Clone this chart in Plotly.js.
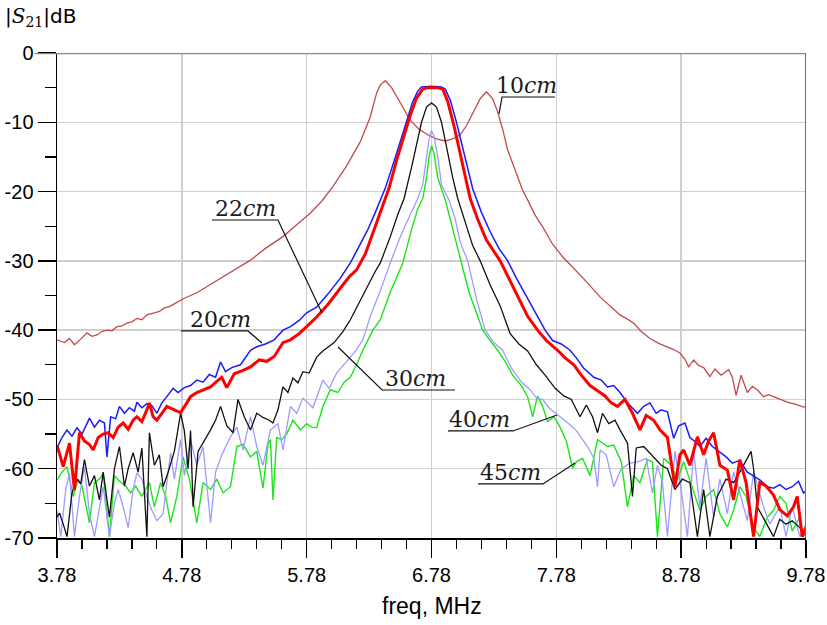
<!DOCTYPE html>
<html>
<head>
<meta charset="utf-8">
<script src="https://cdn.plot.ly/plotly-3.0.1.min.js"></script>
<style>html,body{margin:0;padding:0;background:#fff;}#chart{width:827px;height:625px;}</style>
</head>
<body>
<div id="chart"></div>
<script>
// ---- data (freq in MHz, |S21| in dB) ----
const f10 = [3.78,3.84,3.88,3.92,3.97,4.02,4.06,4.10,4.14,4.18,4.22,4.26,4.30,4.34,4.38,4.42,4.46,4.50,4.56,4.60,4.64,4.68,4.72,4.80,4.90,5.00,5.06,5.15,5.25,5.33,5.45,5.59,5.70,5.81,5.90,5.99,6.10,6.21,6.29,6.34,6.37,6.41,6.46,6.53,6.61,6.68,6.75,6.82,6.89,6.95,7.01,7.06,7.11,7.17,7.22,7.27,7.31,7.35,7.39,7.45,7.51,7.55,7.61,7.67,7.75,7.83,7.89,8.00,8.13,8.20,8.29,8.34,8.40,8.46,8.53,8.60,8.67,8.72,8.77,8.81,8.84,8.88,8.92,8.96,9.01,9.05,9.10,9.16,9.19,9.22,9.26,9.31,9.35,9.39,9.44,9.48,9.52,9.57,9.63,9.70,9.76,9.78];
const s10 = [-41.4,-41.8,-41.2,-42.1,-41.3,-40.4,-40.9,-40.7,-40.2,-40.0,-40.1,-39.5,-39.4,-39.0,-38.8,-38.3,-38.5,-37.8,-37.5,-37.3,-36.8,-36.6,-36.2,-35.4,-34.6,-33.5,-32.8,-31.8,-30.7,-29.9,-28.2,-26.5,-24.8,-23.1,-21.4,-19.3,-16.3,-12.8,-9.2,-5.8,-4.6,-4.0,-5.0,-7.2,-9.7,-11.0,-11.8,-12.4,-12.7,-12.4,-11.8,-10.5,-8.7,-6.6,-5.6,-6.6,-8.5,-11.0,-14.0,-17.0,-19.8,-21.2,-23.4,-25.1,-27.6,-29.4,-30.5,-32.6,-35.2,-36.4,-37.8,-38.3,-39.0,-40.2,-41.2,-41.9,-42.4,-42.8,-43.3,-44.2,-45.3,-44.3,-45.1,-45.4,-46.7,-45.6,-46.5,-45.7,-46.8,-49.4,-46.5,-49.0,-48.1,-48.6,-49.6,-49.3,-49.6,-50.0,-50.4,-50.7,-51.1,-51.0];

const f20 = [3.78,3.82,3.86,3.90,3.94,3.98,4.02,4.04,4.08,4.12,4.16,4.18,4.21,4.25,4.28,4.32,4.36,4.40,4.42,4.46,4.50,4.54,4.58,4.62,4.66,4.71,4.75,4.80,4.85,4.90,4.95,5.00,5.05,5.09,5.13,5.18,5.25,5.30,5.33,5.38,5.45,5.52,5.59,5.65,5.72,5.78,5.86,5.95,6.05,6.13,6.20,6.27,6.33,6.41,6.50,6.58,6.63,6.67,6.70,6.78,6.86,6.89,6.93,6.98,7.04,7.11,7.18,7.25,7.32,7.39,7.46,7.53,7.61,7.69,7.75,7.82,7.89,7.94,8.00,8.08,8.14,8.19,8.24,8.29,8.35,8.40,8.43,8.48,8.53,8.58,8.62,8.67,8.72,8.76,8.81,8.85,8.90,8.93,8.98,9.03,9.09,9.14,9.19,9.25,9.31,9.36,9.41,9.47,9.52,9.57,9.62,9.67,9.72,9.76,9.78];
const s20 = [-57.0,-55.5,-54.4,-55.3,-54.1,-55.0,-53.5,-52.7,-54.0,-53.0,-53.4,-58.3,-52.5,-52.8,-51.0,-52.0,-51.2,-51.7,-50.4,-51.2,-50.6,-50.9,-52.0,-50.5,-49.6,-48.4,-49.0,-48.3,-48.0,-47.2,-47.5,-46.4,-46.8,-44.6,-46.0,-45.4,-45.0,-43.6,-42.9,-42.4,-42.0,-41.4,-40.0,-39.5,-38.6,-37.5,-36.7,-34.8,-32.5,-30.3,-28.0,-25.5,-23.0,-19.5,-14.5,-10.0,-7.0,-5.5,-4.9,-4.8,-4.9,-5.2,-6.8,-10.0,-14.5,-19.6,-23.0,-25.8,-28.2,-30.0,-32.5,-34.8,-37.5,-40.0,-41.5,-42.0,-42.9,-44.0,-45.5,-46.8,-47.2,-48.2,-48.0,-49.0,-50.5,-51.5,-52.0,-51.0,-50.5,-52.0,-51.5,-51.8,-55.6,-53.8,-53.4,-55.5,-56.2,-56.8,-55.6,-56.8,-57.6,-58.3,-59.2,-58.8,-60.5,-61.0,-61.6,-62.6,-62.8,-62.3,-63.0,-62.6,-61.8,-63.5,-63.2];

const f22 = [3.78,3.83,3.88,3.92,3.96,4.00,4.04,4.07,4.11,4.15,4.19,4.23,4.27,4.31,4.35,4.39,4.42,4.46,4.50,4.52,4.55,4.58,4.62,4.66,4.72,4.77,4.82,4.85,4.90,4.96,5.01,5.06,5.10,5.14,5.20,5.27,5.33,5.40,5.46,5.52,5.59,5.65,5.72,5.78,5.86,5.95,6.05,6.12,6.18,6.25,6.32,6.38,6.44,6.50,6.56,6.61,6.66,6.71,6.75,6.82,6.87,6.91,6.96,7.02,7.09,7.15,7.22,7.33,7.40,7.48,7.55,7.63,7.70,7.79,7.85,7.92,7.98,8.05,8.11,8.17,8.22,8.27,8.33,8.39,8.45,8.50,8.56,8.61,8.67,8.73,8.77,8.80,8.85,8.91,8.96,9.00,9.04,9.09,9.15,9.20,9.25,9.30,9.36,9.41,9.46,9.52,9.57,9.63,9.68,9.71,9.75,9.78];
const s22 = [-56.6,-59.7,-56.3,-63.1,-54.8,-56.0,-56.5,-57.3,-55.5,-55.0,-54.8,-55.5,-54.0,-53.4,-54.3,-53.0,-52.5,-53.2,-51.5,-50.5,-52.5,-53.0,-52.0,-51.0,-51.5,-51.9,-50.5,-49.6,-49.0,-48.5,-48.2,-47.4,-46.8,-48.3,-46.3,-45.8,-45.3,-44.3,-44.5,-43.8,-41.8,-41.4,-40.5,-39.5,-38.1,-36.3,-34.0,-32.3,-31.3,-29.0,-25.5,-22.5,-19.5,-15.5,-12.0,-9.0,-6.5,-5.2,-5.0,-5.0,-5.2,-7.0,-10.5,-15.5,-21.0,-24.0,-27.0,-30.0,-32.5,-35.5,-38.0,-40.0,-41.5,-42.9,-44.0,-45.0,-46.5,-48.0,-48.8,-49.5,-50.5,-51.0,-50.0,-52.0,-54.4,-52.3,-53.0,-54.4,-55.5,-62.6,-58.0,-57.3,-59.5,-55.4,-58.0,-56.0,-54.8,-59.5,-60.2,-64.5,-58.7,-62.0,-69.8,-62.0,-62.5,-63.8,-65.9,-66.8,-65.5,-64.0,-69.8,-68.5];

const f30 = [3.78,3.80,3.83,3.86,3.90,3.94,3.97,4.00,4.04,4.08,4.12,4.15,4.20,4.24,4.28,4.32,4.35,4.39,4.43,4.46,4.50,4.52,4.56,4.60,4.63,4.67,4.72,4.77,4.80,4.83,4.85,4.87,4.91,4.95,5.01,5.05,5.09,5.14,5.19,5.23,5.28,5.33,5.38,5.43,5.48,5.51,5.55,5.59,5.63,5.67,5.71,5.75,5.80,5.86,5.91,6.00,6.07,6.13,6.20,6.27,6.33,6.37,6.45,6.51,6.56,6.62,6.67,6.70,6.74,6.78,6.82,6.86,6.90,6.95,6.99,7.05,7.11,7.17,7.25,7.33,7.41,7.48,7.55,7.62,7.69,7.77,7.84,7.90,7.97,8.02,8.07,8.11,8.15,8.20,8.25,8.29,8.35,8.39,8.42,8.48,8.56,8.62,8.67,8.73,8.79,8.85,8.91,8.96,9.01,9.07,9.14,9.20,9.25,9.31,9.34,9.36,9.39,9.45,9.52,9.57,9.62,9.67,9.73,9.78];
const s30 = [-67.0,-66.4,-68.0,-69.8,-63.5,-61.5,-62.2,-58.7,-62.5,-61.0,-64.5,-60.5,-67.0,-60.0,-56.8,-62.5,-60.0,-57.7,-60.5,-57.0,-69.8,-54.8,-59.5,-58.0,-62.6,-60.5,-57.5,-52.0,-54.5,-60.0,-54.5,-65.5,-57.5,-56.3,-54.4,-53.0,-51.0,-53.8,-54.8,-50.0,-52.5,-54.4,-52.0,-52.6,-53.0,-53.4,-51.5,-48.2,-49.0,-46.9,-47.6,-46.0,-46.2,-43.9,-43.0,-41.8,-40.2,-38.5,-36.0,-33.5,-31.5,-30.3,-26.5,-23.3,-21.0,-16.5,-12.5,-10.0,-7.8,-7.2,-7.8,-10.0,-13.5,-18.0,-21.0,-24.5,-27.8,-30.0,-33.5,-36.5,-40.5,-42.0,-43.0,-45.0,-46.5,-48.4,-49.5,-50.0,-52.5,-50.8,-52.5,-54.8,-52.0,-53.5,-53.0,-54.4,-56.3,-64.0,-57.0,-56.8,-58.3,-59.5,-60.0,-63.0,-61.5,-62.0,-69.8,-63.0,-69.8,-64.0,-61.5,-62.0,-60.5,-58.4,-57.5,-60.0,-65.5,-67.5,-69.8,-67.3,-68.0,-67.5,-68.5,-69.5];

const f40 = [3.78,3.81,3.85,3.88,3.92,3.96,4.00,4.04,4.08,4.12,4.15,4.20,4.24,4.27,4.31,4.35,4.39,4.42,4.46,4.50,4.54,4.58,4.63,4.66,4.69,4.72,4.77,4.80,4.85,4.90,4.95,5.01,5.05,5.10,5.17,5.22,5.27,5.33,5.38,5.43,5.49,5.55,5.59,5.65,5.70,5.75,5.83,5.91,5.96,6.02,6.08,6.13,6.18,6.23,6.29,6.36,6.45,6.52,6.58,6.63,6.67,6.71,6.74,6.76,6.78,6.80,6.83,6.86,6.92,6.97,7.01,7.07,7.14,7.21,7.28,7.35,7.42,7.50,7.57,7.62,7.67,7.72,7.81,7.88,7.94,8.03,8.08,8.11,8.13,8.18,8.24,8.30,8.37,8.43,8.50,8.55,8.59,8.63,8.67,8.73,8.78,8.83,8.88,8.93,8.98,9.04,9.09,9.15,9.20,9.25,9.31,9.36,9.44,9.49,9.57,9.62,9.67,9.73,9.78];
const s40 = [-66.0,-69.8,-63.0,-60.6,-69.8,-64.0,-59.7,-66.5,-69.8,-66.0,-62.6,-69.8,-65.0,-63.0,-65.5,-68.5,-63.0,-60.6,-61.5,-64.0,-66.0,-67.5,-66.5,-62.0,-57.7,-61.5,-55.8,-61.0,-55.8,-59.5,-56.8,-67.8,-60.5,-58.0,-55.4,-54.0,-57.3,-52.5,-56.8,-59.5,-54.4,-53.5,-57.3,-51.0,-52.0,-49.8,-51.2,-47.2,-48.4,-46.2,-45.0,-43.9,-42.8,-41.4,-38.0,-34.8,-30.3,-27.0,-24.5,-22.5,-21.0,-19.0,-15.5,-12.5,-11.2,-12.0,-15.0,-19.0,-21.2,-24.0,-27.3,-30.0,-35.5,-40.0,-41.8,-42.9,-45.5,-47.5,-48.6,-49.8,-50.0,-51.2,-52.5,-53.5,-54.5,-56.8,-58.5,-62.6,-57.3,-58.0,-62.6,-60.0,-59.2,-59.0,-58.5,-63.5,-59.5,-62.0,-69.8,-57.5,-63.0,-69.8,-57.5,-65.5,-58.5,-67.0,-61.5,-66.5,-60.5,-63.5,-67.5,-60.5,-65.5,-68.0,-65.5,-69.8,-65.5,-69.8,-68.0];

const f45 = [3.78,3.82,3.86,3.91,3.95,3.98,4.04,4.08,4.12,4.15,4.20,4.24,4.28,4.33,4.37,4.41,4.46,4.52,4.56,4.61,4.65,4.69,4.74,4.79,4.84,4.90,4.95,5.01,5.06,5.11,5.17,5.22,5.27,5.33,5.38,5.43,5.47,5.49,5.51,5.54,5.58,5.62,5.67,5.73,5.78,5.82,5.86,5.91,5.97,6.03,6.08,6.13,6.18,6.23,6.31,6.37,6.45,6.55,6.62,6.67,6.71,6.74,6.76,6.78,6.80,6.83,6.89,6.95,7.01,7.08,7.14,7.19,7.25,7.31,7.37,7.43,7.50,7.55,7.59,7.63,7.67,7.71,7.76,7.81,7.86,7.91,7.94,7.99,8.05,8.11,8.19,8.24,8.30,8.35,8.40,8.45,8.51,8.55,8.59,8.64,8.70,8.75,8.80,8.88,8.93,8.98,9.04,9.09,9.15,9.20,9.25,9.30,9.36,9.41,9.47,9.52,9.57,9.62,9.67,9.73,9.76,9.78];
const s45 = [-61.6,-60.5,-59.7,-64.0,-61.5,-62.5,-67.8,-62.0,-61.5,-60.6,-69.8,-61.0,-61.8,-62.5,-63.5,-62.5,-64.0,-62.0,-65.5,-62.0,-64.0,-67.8,-64.0,-58.3,-61.5,-67.8,-62.0,-63.0,-61.5,-63.5,-62.6,-56.8,-56.5,-58.3,-57.5,-62.8,-56.5,-55.8,-64.5,-55.5,-55.8,-55.0,-53.0,-54.4,-53.5,-54.0,-54.1,-51.0,-48.6,-49.0,-47.5,-46.8,-45.0,-42.9,-40.0,-38.5,-34.5,-30.3,-25.5,-22.5,-21.0,-18.0,-15.0,-13.4,-14.5,-18.0,-21.2,-25.5,-29.9,-34.5,-37.5,-40.0,-41.5,-42.9,-44.5,-46.5,-48.0,-49.6,-52.5,-49.5,-51.0,-53.2,-52.5,-54.0,-56.0,-59.9,-59.0,-58.5,-61.0,-55.8,-56.8,-56.6,-59.0,-65.5,-61.0,-62.0,-58.7,-59.0,-69.8,-58.5,-59.5,-61.6,-59.0,-63.5,-66.0,-64.0,-63.0,-66.5,-68.4,-66.0,-62.6,-64.0,-68.5,-69.8,-67.0,-66.0,-64.0,-65.0,-69.0,-67.0,-69.8,-69.0];

const seriesNames = ['10cm','45cm','40cm','30cm','20cm','22cm'];
const xTickVals = [3.78,4.78,5.78,6.78,7.78,8.78,9.78];
const xTickText = ['3.78','4.78','5.78','6.78','7.78','8.78','9.78'];
const yTickVals = [0,-10,-20,-30,-40,-50,-60,-70];
const yTickText = ['0','-10','-20','-30','-40','-50','-60','-70'];

// ---- traces ----
const mk = (x, y, name, color, width) => ({
  type:'scatter', mode:'lines', x:x, y:y, name:name,
  line:{color:color, width:width, shape:'linear'}, hoverinfo:'skip'
});
const traces = [
  mk(f10, s10, seriesNames[0], '#c24a48', 1.3),
  mk(f45, s45, seriesNames[1], '#19e619', 1.4),
  mk(f40, s40, seriesNames[2], '#9c9cff', 1.3),
  mk(f30, s30, seriesNames[3], '#111111', 1.3),
  mk(f20, s20, seriesNames[4], '#1a1aff', 1.5),
  mk(f22, s22, seriesNames[5], '#ff0000', 3.0)
];

// ---- label callouts: text centre x, underline (x0,x1,y), leader end ----
const callouts = [
  {t:'10', cx:7.538, u0:7.345, u1:7.769, uy:-6.35, ex:7.321, ey:-8.80, from:'left'},
  {t:'22', cx:5.286, u0:5.022, u1:5.550, uy:-24.10, ex:5.903, ey:-37.52, from:'right'},
  {t:'20', cx:5.086, u0:4.773, u1:5.310, uy:-40.12, ex:5.422, ey:-41.85, from:'right'},
  {t:'30', cx:6.648, u0:6.384, u1:6.968, uy:-48.64, ex:6.031, ey:-42.43, from:'left'},
  {t:'40', cx:7.161, u0:6.912, u1:7.433, uy:-54.55, ex:7.785, ey:-52.24, from:'right'},
  {t:'45', cx:7.409, u0:7.153, u1:7.673, uy:-62.20, ex:7.930, ey:-59.17, from:'right'}
];

const shapes = [
  {type:'line', xref:'paper', yref:'y', x0:-0.03, x1:1, y0:0, y1:0, line:{color:'#8a8a8a', width:2.5}, layer:'above'},
  {type:'line', xref:'x', yref:'paper', x0:9.78, x1:9.78, y0:0, y1:1, line:{color:'#6e6e6e', width:2}, layer:'above'}
];
const annotations = [];
callouts.forEach(c => {
  const sx = c.from === 'left' ? c.u0 : c.u1;
  const ox = c.from === 'left' ? c.u1 : c.u0;
  shapes.push({type:'path', xref:'x', yref:'y',
    path:`M ${ox},${c.uy} L ${sx},${c.uy} L ${c.ex},${c.ey}`,
    line:{color:'#111', width:1.2}, layer:'above'});
  annotations.push({xref:'x', yref:'y', x:c.cx, y:c.uy, xanchor:'center', yanchor:'bottom',
    yshift:-3, showarrow:false,
    text:c.t + '<i>cm</i>',
    font:{family:'"DejaVu Serif", "Liberation Serif", serif', size:22, color:'#1a1a1a'}});
});
annotations.push({xref:'paper', yref:'paper', x:-0.072, y:1.074, xanchor:'left', yanchor:'middle',
  showarrow:false,
  text:'|<span style="font-family:\'DejaVu Serif\'"><i>S</i><sub>21</sub></span>|dB',
  font:{family:'"DejaVu Sans", sans-serif', size:20, color:'#000'}});
annotations.push({xref:'paper', yref:'paper', x:0.5, y:-0.14, xanchor:'center', yanchor:'middle',
  showarrow:false, text:'freq, MHz',
  font:{family:'"Liberation Sans", Arial, sans-serif', size:23, color:'#000'}});

const layout = {
  width:827, height:625,
  margin:{l:57, r:21, t:53, b:87, pad:0},
  paper_bgcolor:'#ffffff', plot_bgcolor:'#ffffff',
  showlegend:false,
  font:{family:'"Liberation Sans", Arial, sans-serif', size:20, color:'#000'},
  xaxis:{
    range:[3.78, 9.78], tickmode:'array', tickvals:xTickVals, ticktext:xTickText,
    ticks:'outside', ticklen:18, tickwidth:1.5, tickcolor:'#000',
    showline:true, linecolor:'#000', linewidth:1.5,
    showgrid:true, gridcolor:'#cfcfcf', gridwidth:1.5, zeroline:false,
    minor:{tickmode:'linear', tick0:3.78, dtick:0.2, ticks:'outside', ticklen:9, tickwidth:1.2, tickcolor:'#000', showgrid:false},
    tickfont:{size:20}, fixedrange:true
  },
  yaxis:{
    range:[-70, 0], tickmode:'array', tickvals:yTickVals, ticktext:yTickText,
    ticks:'outside', ticklen:18, tickwidth:1.5, tickcolor:'#000',
    showline:true, linecolor:'#000', linewidth:1.5,
    showgrid:true, gridcolor:'#cfcfcf', gridwidth:1.5, zeroline:false,
    minor:{tickmode:'linear', tick0:-70, dtick:5, ticks:'outside', ticklen:11, tickwidth:1.2, tickcolor:'#000', showgrid:false},
    tickfont:{size:20}, fixedrange:true
  },
  shapes:shapes,
  annotations:annotations
};

Plotly.newPlot('chart', traces, layout, {staticPlot:true, displayModeBar:false});
</script>
</body>
</html>
